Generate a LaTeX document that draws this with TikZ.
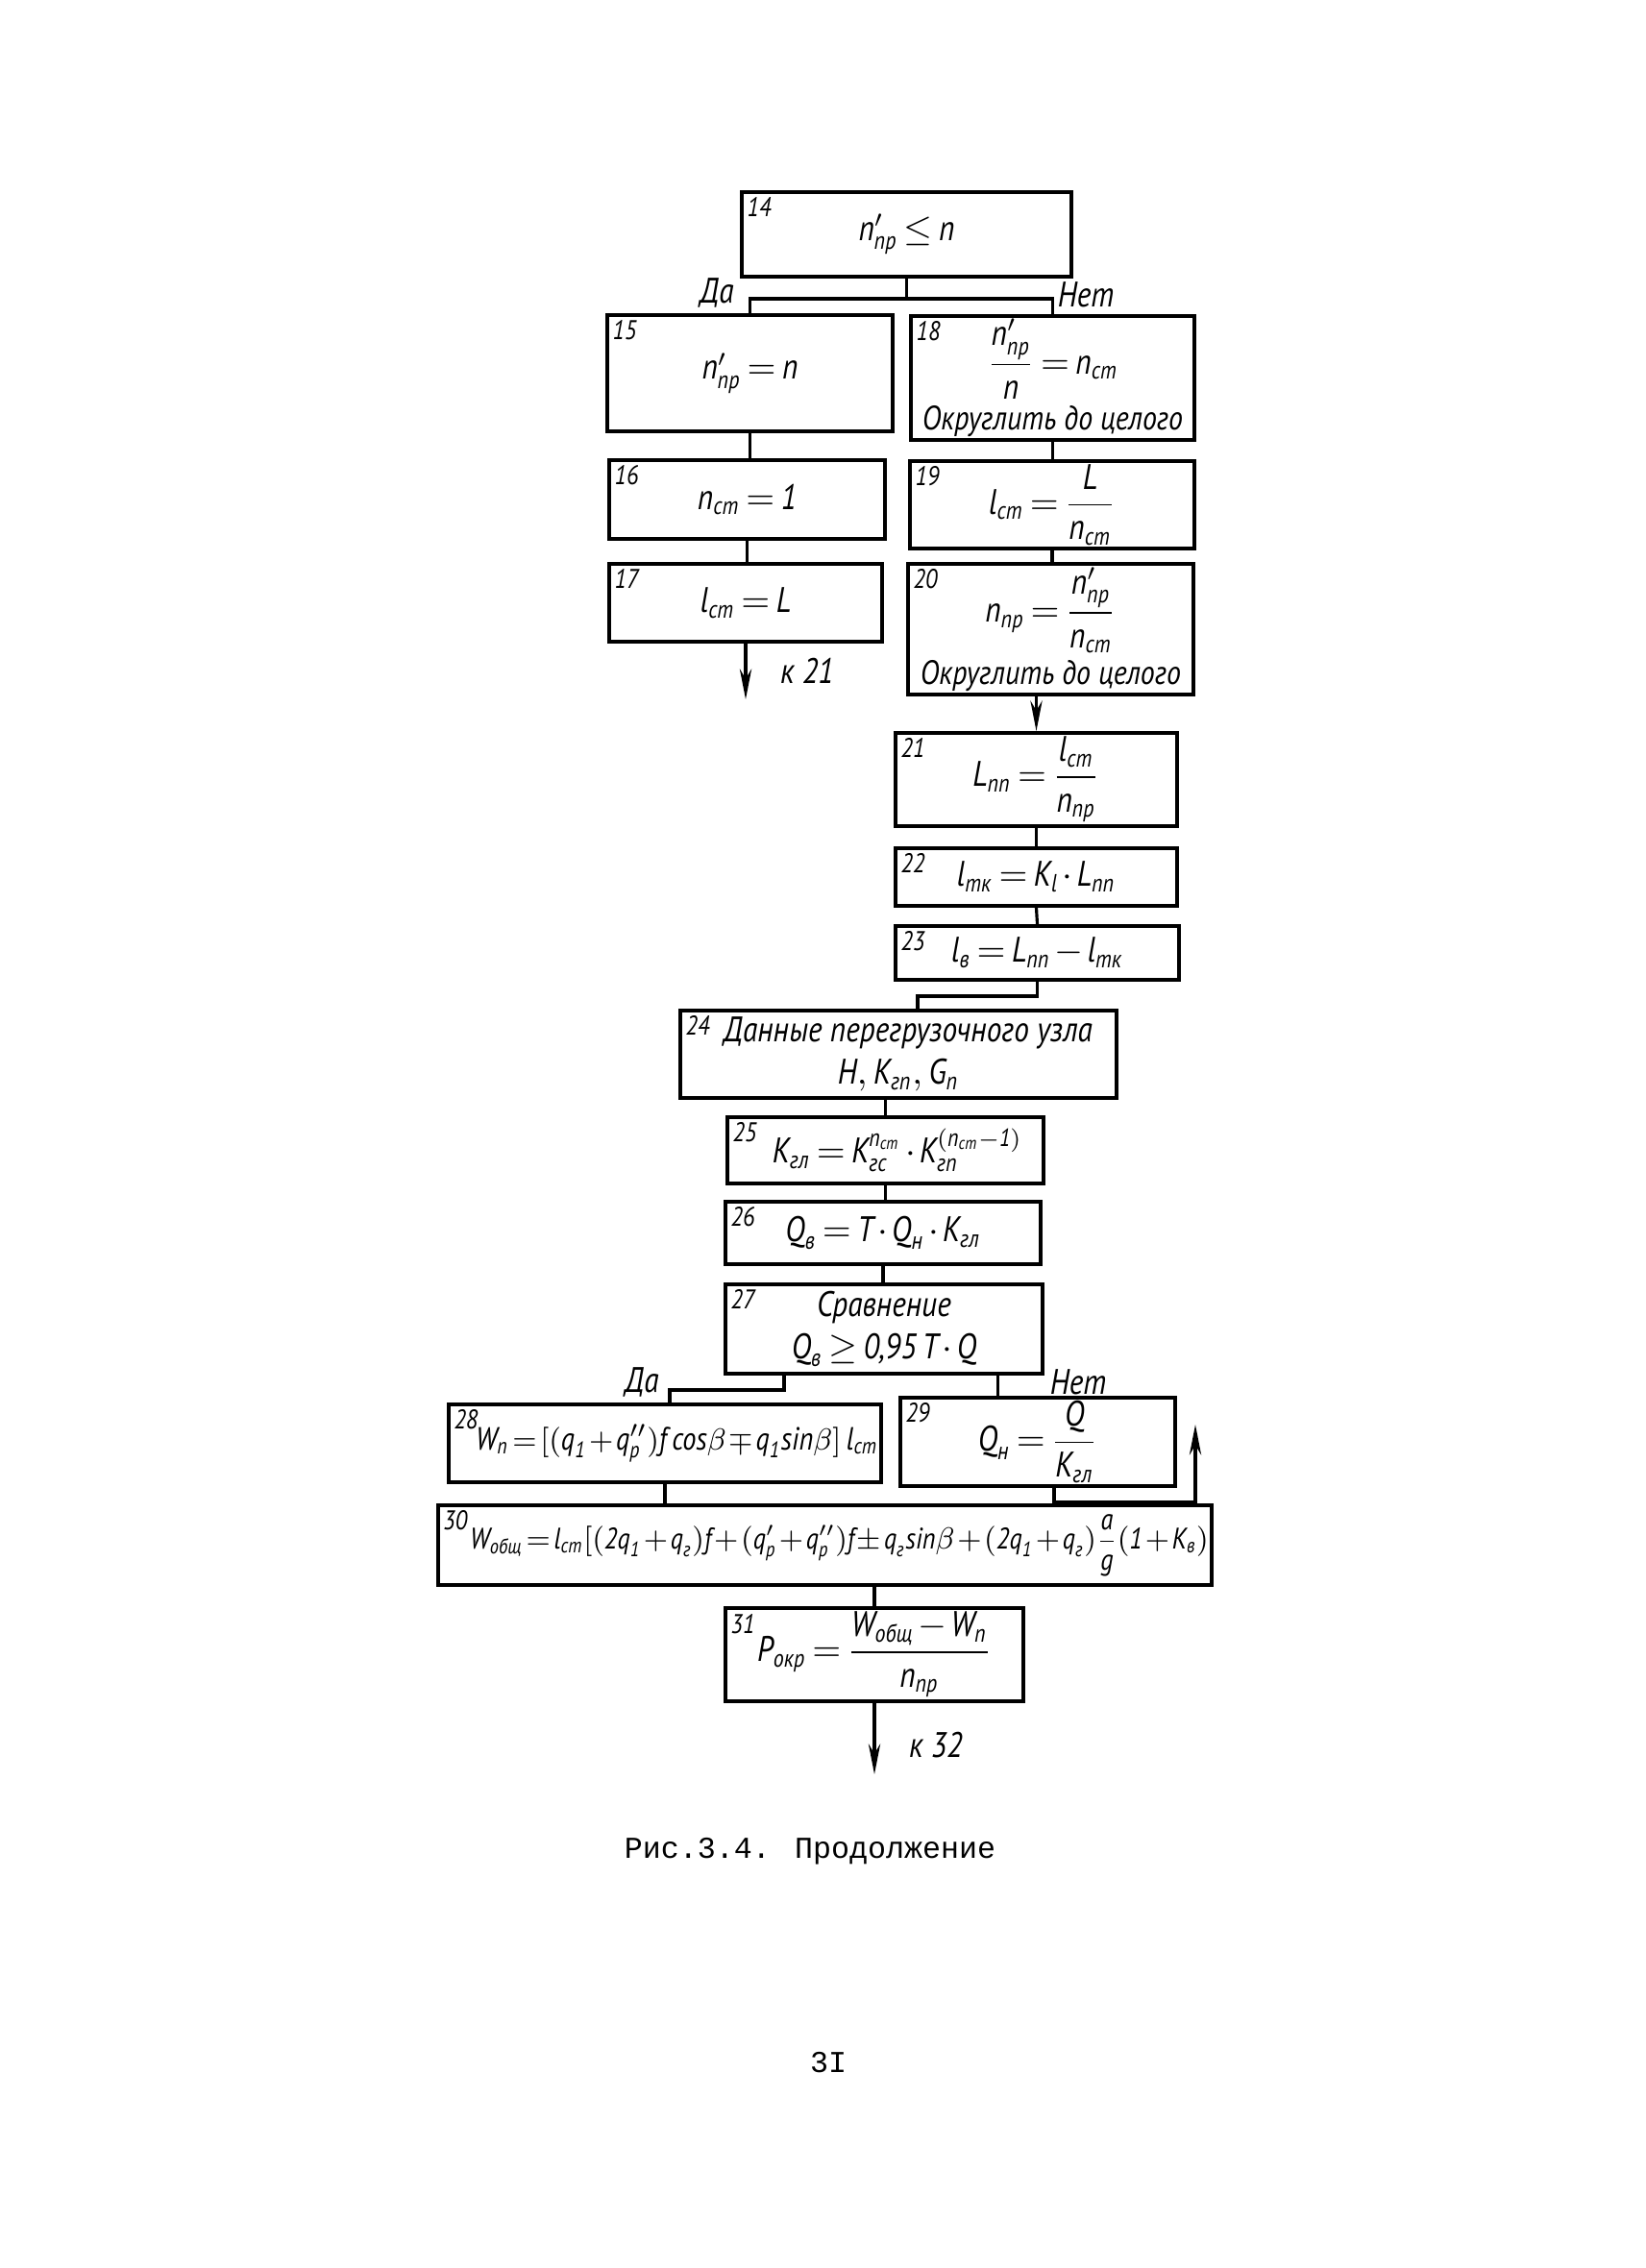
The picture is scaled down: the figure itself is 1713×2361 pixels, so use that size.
\documentclass[tikz,border=0pt]{standalone}
\usepackage{amsmath,amssymb}
\usepackage{fontspec}
\usepackage{tikz}
\usetikzlibrary{arrows.meta,positioning}
\newfontfamily\handfont{PT Sans}[FakeStretch=0.85]
\newfontfamily\typefont{Liberation Mono}
\newcommand{\tv}[1]{\text{#1}}
\newcommand{\normgaps}{\thickmuskip=3mu\relax\medmuskip=2mu\relax}
\newcommand{\tightgaps}{\thickmuskip=2mu\relax\medmuskip=1.5mu\relax}

\begin{document}
\begin{tikzpicture}[x=0.01cm,y=-0.01cm,>={Stealth[length=9pt,width=3.5pt]},
    blk/.style={draw,line width=1.1pt,align=center,inner sep=1pt,
      font=\handfont\itshape\fontsize{10.5}{12.5}\selectfont\normgaps},
    tight/.style={font=\handfont\itshape\fontsize{9.5}{11}\selectfont\tightgaps},
    num/.style={anchor=north west,inner sep=2pt,
      font=\handfont\itshape\fontsize{8}{9}\selectfont},
    ans/.style={inner sep=1pt,font=\handfont\itshape\fontsize{10.5}{12}\selectfont},
    lnk/.style={line width=0.9pt}]
    \useasboundingbox (0,0) rectangle (1713,2361);

    \node[blk,minimum width=3.43cm,minimum height=0.88cm,label={[num]north west:14}]
      (b14) at (943.5,244) {$\tv{n}'_{\tv{пр}}\leq\tv{n}$};
    \node[blk,minimum width=2.97cm,minimum height=1.21cm,label={[num]north west:15}]
      (b15) at (780.5,388.5) {$\tv{n}'_{\tv{пр}}=\tv{n}$};
    \node[blk,minimum width=2.95cm,minimum height=1.25cm,label={[num]north west:18}]
      (b18) at (1095.5,393.5) {$\dfrac{\tv{n}'_{\tv{пр}}}{\tv{n}}=\tv{n}_{\tv{ст}}$\\[1pt]
      {\fontsize{10}{12}\selectfont Округлить до целого}};
    \node[blk,minimum width=2.87cm,minimum height=0.82cm,label={[num]north west:16}]
      (b16) at (777.5,520) {$\tv{n}_{\tv{ст}}=\tv{1}$};
    \node[blk,minimum width=2.96cm,minimum height=0.87cm,label={[num]north west:19}]
      (b19) at (1095,525.5) {$\tv{l}_{\tv{ст}}=\dfrac{\tv{L}}{\tv{n}_{\tv{ст}}}$};
    \node[blk,minimum width=2.84cm,minimum height=0.81cm,label={[num]north west:17}]
      (b17) at (776,627.5) {$\tv{l}_{\tv{ст}}=\tv{L}$};
    \node[blk,minimum width=2.97cm,minimum height=1.30cm,label={[num]north west:20}]
      (b20) at (1093.5,655) {$\tv{n}_{\tv{пр}}=\dfrac{\tv{n}'_{\tv{пр}}}{\tv{n}_{\tv{ст}}}$\\[1pt]
      {\fontsize{10}{12}\selectfont Округлить до целого}};
    \node[blk,minimum width=2.93cm,minimum height=0.97cm,label={[num]north west:21}]
      (b21) at (1078.5,811.5) {$\tv{L}_{\tv{пп}}=\dfrac{\tv{l}_{\tv{ст}}}{\tv{n}_{\tv{пр}}}$};
    \node[blk,minimum width=2.93cm,minimum height=0.60cm,label={[num]north west:22}]
      (b22) at (1078.5,913) {$\tv{l}_{\tv{тк}}=\tv{K}_{\tv{l}}\cdot\tv{L}_{\tv{пп}}$};
    \node[blk,minimum width=2.95cm,minimum height=0.56cm,label={[num]north west:23}]
      (b23) at (1079.5,992) {$\tv{l}_{\tv{в}}=\tv{L}_{\tv{пп}}-\tv{l}_{\tv{тк}}$};
    \node[blk,minimum width=4.54cm,minimum height=0.91cm,label={[num]north west:24}]
      (b24) at (935,1097.5) {\hspace*{0.2cm}Данные перегрузочного узла\\
      $\tv{H},\tv{K}_{\tv{гп}},\tv{G}_{\tv{п}}$};
    \node[blk,minimum width=3.29cm,minimum height=0.69cm,label={[num]north west:25}]
      (b25) at (921.5,1197.5) {\hspace*{0.25cm}$\tv{K}_{\tv{гл}}=\tv{K}_{\tv{гс}}^{\tv{n}_{\tv{ст}}}\cdot
      \tv{K}_{\tv{гп}}^{(\tv{n}_{\tv{ст}}-\tv{1})}$};
    \node[blk,minimum width=3.28cm,minimum height=0.65cm,label={[num]north west:26}]
      (b26) at (919,1283.5) {$\tv{Q}_{\tv{в}}=\tv{T}\cdot\tv{Q}_{\tv{н}}\cdot\tv{K}_{\tv{гл}}$};
    \node[blk,minimum width=3.30cm,minimum height=0.93cm,label={[num]north west:27}]
      (b27) at (920,1383.5) {Сравнение\\
      $\tv{Q}_{\tv{в}}\geq\tv{0,95\,T}\cdot\tv{Q}$};
    \node[blk,tight,minimum width=4.46cm,minimum height=0.81cm,label={[num]north west:28}]
      (b28) at (692,1502.5) {\hspace*{0.25cm}$\tv{W}_{\tv{п}}=[(\tv{q}_{\tv{1}}+\tv{q}''_{\tv{р}})\tv{f}\,\tv{cos}\beta
      \mp\tv{q}_{\tv{1}}\tv{sin}\beta]\,\tv{l}_{\tv{ст}}$};
    \node[blk,minimum width=2.86cm,minimum height=0.82cm,label={[num]north west:29}]
      (b29) at (1080,1501) {$\tv{Q}_{\tv{н}}=\dfrac{\tv{Q}}{\tv{K}_{\tv{гл}}}$};
    \node[blk,tight,font=\handfont\itshape\fontsize{8.8}{11}\selectfont\tightgaps,
      minimum width=7.83cm,minimum height=0.83cm,label={[num]north west:30}]
      (b30) at (858.5,1608.5) {\hspace*{0.3cm}$\tv{W}_{\tv{общ}}=\tv{l}_{\tv{ст}}[(\tv{2q}_{\tv{1}}+\tv{q}_{\tv{г}})\tv{f}
      +(\tv{q}'_{\tv{р}}+\tv{q}''_{\tv{р}})\tv{f}\pm\tv{q}_{\tv{г}}\tv{sin}\beta
      +(\tv{2q}_{\tv{1}}+\tv{q}_{\tv{г}})\dfrac{\tv{a}}{\tv{g}}(\tv{1}+\tv{K}_{\tv{в}})$};
    \node[blk,minimum width=3.10cm,minimum height=0.95cm,label={[num]north west:31}]
      (b31) at (910,1722.5) {$\tv{P}_{\tv{окр}}=\dfrac{\tv{W}_{\tv{общ}}-\tv{W}_{\tv{п}}}{\tv{n}_{\tv{пр}}}$};

    \node[ans] (da14) at (746,305) {Да};
    \node[ans] (net14) at (1130,307) {Нет};
    \node[ans] (da27) at (668,1439) {Да};
    \node[ans] (net27) at (1122,1439) {Нет};
    \node[ans,anchor=west] (k21) at (808,698) {к 21};
    \node[ans,anchor=west] (k32) at (942,1817) {к 32};

    \coordinate (e17) at (776,728);
    \coordinate (e31) at (910,1847);
    \coordinate (y27) at ([xshift=-1.04cm]b27.south);
    \coordinate (n27) at ([xshift=1.18cm]b27.south);
    \coordinate (o29) at ([xshift=0.17cm]b29.south);
    \coordinate (r29) at (1244,1483);

    \draw[lnk] (b14.south) -- ++(0,21) -| (b15.north);
    \draw[lnk] (b14.south) -- ++(0,21) -| (b18.north);
    \draw[lnk] (b15.south) -- (b15.south |- b16.north);
    \draw[lnk] (b16.south) -- (b16.south |- b17.north);
    \draw[lnk,->] (b17.south) -- (e17);
    \draw[lnk] (b18.south) -- (b18.south |- b19.north);
    \draw[lnk] (b19.south) -- (b19.south |- b20.north);
    \draw[lnk,->] (b20.south -| b21.north) -- (b21.north);
    \draw[lnk] (b21.south) -- (b22.north);
    \draw[lnk] (b22.south) -- (b23.north);
    \draw[lnk] (b23.south) -- ++(0,15) -| ([xshift=0.2cm]b24.north);
    \draw[lnk] (b24.south -| b25.north) -- (b25.north);
    \draw[lnk] (b25.south) -- (b25.south |- b26.north);
    \draw[lnk] (b26.south) -- (b26.south |- b27.north);
    \draw[lnk] (y27) -- ++(0,15) -| ([xshift=0.05cm]b28.north);
    \draw[lnk] (n27) -- (n27 |- b29.north);
    \draw[lnk,->] (o29) -- ++(0,15) -| (r29);
    \draw[lnk] (b28.south) -- (b28.south |- b30.north);
    \draw[lnk] (b30.south -| b31.north) -- (b31.north);
    \draw[lnk,->] (b31.south) -- (e31);

    \node[font=\typefont\fontsize{9}{11}\selectfont] (cap) at (843,1927) {Рис.3.4. Продолжение};
    \node[font=\typefont\fontsize{9}{11}\selectfont] (pg) at (862,2147) {3I};
  \end{tikzpicture}
\end{document}
